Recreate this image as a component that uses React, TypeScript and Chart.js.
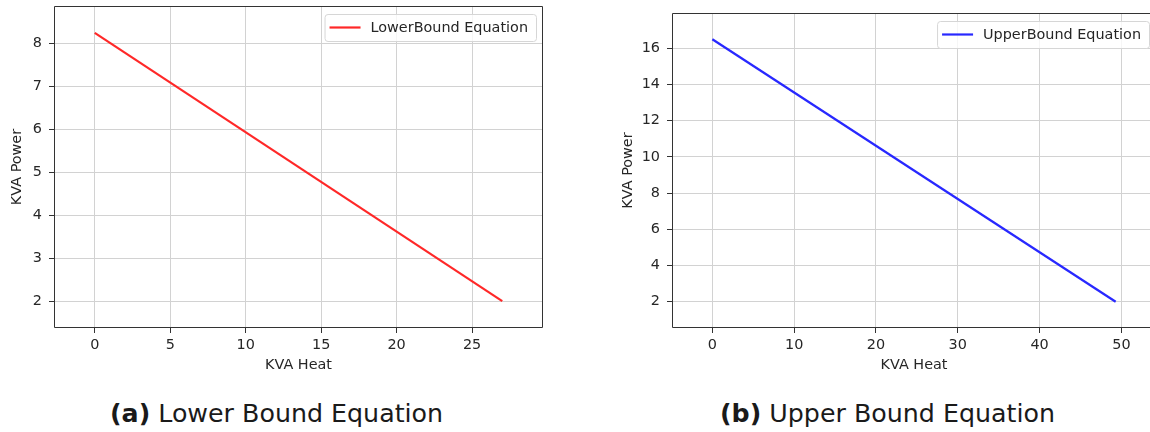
import React, { useEffect, useRef } from "react";
import { Chart, registerables } from "chart.js";

Chart.register(...registerables);

// ---- data ----
const lowerHeat = [0, 27];
const lowerPower = [8.24, 2.0];
const upperHeat = [0, 49.3];
const upperPower = [16.5, 2.0];

const lowerXTicks = [0, 5, 10, 15, 20, 25];
const lowerYTicks = [2, 3, 4, 5, 6, 7, 8];
const upperXTicks = [0, 10, 20, 30, 40, 50];
const upperYTicks = [2, 4, 6, 8, 10, 12, 14, 16];

const lowerXRange = [-2.7, 29.7];
const lowerYRange = [1.376, 8.864];
const upperXRange = [-4.93, 54.23];
const upperYRange = [0.55, 17.95];

const lowerLabel = "LowerBound Equation";
const upperLabel = "UpperBound Equation";
const xTitle = "KVA Heat";
const yTitle = "KVA Power";

const FONT = '"DejaVu Sans", sans-serif';
const FS = 14.4;
const TEXT = "#262626";

const framePlugin = {
  id: "frame",
  afterDatasetsDraw(chart: any, _args: any, opts: any) {
    const { ctx, chartArea } = chart;
    ctx.save();
    ctx.strokeStyle = "#333";
    ctx.lineWidth = 1;
    const l = Math.round(chartArea.left) + 0.5;
    const t = Math.round(chartArea.top) + 0.5;
    const r = Math.round(chartArea.right) - 0.5;
    const b = Math.round(chartArea.bottom) - 0.5;
    ctx.beginPath();
    ctx.moveTo(r, t);
    ctx.lineTo(l, t);
    ctx.lineTo(l, b);
    ctx.lineTo(r, b);
    if (opts && opts.right) ctx.lineTo(r, t);
    ctx.stroke();
    ctx.restore();
  },
};

const legendPlugin = {
  id: "insideLegend",
  afterDraw(chart: any) {
    const { ctx, chartArea } = chart;
    const ds = chart.data.datasets[0];
    ctx.save();
    ctx.font = `${FS}px ${FONT}`;
    const tw = ctx.measureText(ds.label).width;
    const right = chartArea.right - 7;
    const top = chartArea.top + 8;
    const h = 27;
    const w = 46 + tw + 8;
    const left = right - w;
    ctx.beginPath();
    (ctx as any).roundRect(left + 0.5, top + 0.5, w, h, 3);
    ctx.fillStyle = "rgba(255,255,255,0.8)";
    ctx.fill();
    ctx.strokeStyle = "#d6d6d6";
    ctx.lineWidth = 1;
    ctx.stroke();
    ctx.beginPath();
    ctx.strokeStyle = ds.borderColor;
    ctx.lineWidth = 2.2;
    ctx.moveTo(left + 5, top + h / 2);
    ctx.lineTo(left + 36, top + h / 2);
    ctx.stroke();
    ctx.fillStyle = TEXT;
    ctx.textBaseline = "middle";
    ctx.textAlign = "left";
    ctx.fillText(ds.label, left + 46, top + h / 2 + 1);
    ctx.restore();
  },
};

type Props = {
  xs: number[];
  ys: number[];
  label: string;
  color: string;
  xTicks: number[];
  yTicks: number[];
  xRange: number[];
  yRange: number[];
  left: number;
  width: number;
  height: number;
  yAxisWidth: number;
  padTop: number;
  padRight: number;
  yTitlePad: number;
  frameRight: boolean;
};

function zeroPad(axis: any) {
  axis.paddingTop = 0;
  axis.paddingBottom = 0;
  axis.paddingLeft = 0;
  axis.paddingRight = 0;
}

function LineChart(p: Props) {
  const ref = useRef<HTMLCanvasElement>(null);
  useEffect(() => {
    if (!ref.current) return;
    const chart = new Chart(ref.current, {
      type: "line",
      data: {
        datasets: [
          {
            label: p.label,
            data: p.xs.map((x, i) => ({ x, y: p.ys[i] })),
            borderColor: p.color,
            backgroundColor: p.color,
            borderWidth: 2.2,
            pointRadius: 0,
            tension: 0,
          },
        ],
      },
      options: {
        animation: false,
        responsive: false,
        devicePixelRatio: 1,
        layout: { padding: { left: 0, top: p.padTop, right: p.padRight, bottom: 0 } },
        plugins: {
          legend: { display: false },
          tooltip: { enabled: false },
          frame: { right: p.frameRight },
        },
        scales: {
          x: {
            type: "linear",
            min: p.xRange[0],
            max: p.xRange[1],
            afterBuildTicks: (axis: any) => {
              axis.ticks = p.xTicks.map((v) => ({ value: v }));
            },
            afterFit: (axis: any) => {
              axis.height = 57;
              zeroPad(axis);
            },
            ticks: {
              color: TEXT,
              font: { family: FONT, size: FS },
              padding: 4,
              maxRotation: 0,
              callback: (v: any) => String(v),
            },
            grid: {
              color: "#d2d2d2",
              lineWidth: 1,
              drawTicks: true,
              tickLength: 5,
              tickColor: "#333",
            },
            border: { display: false },
            title: {
              display: true,
              text: xTitle,
              color: TEXT,
              font: { family: FONT, size: FS },
              padding: { top: 0, bottom: 10.6 },
            },
          },
          y: {
            type: "linear",
            min: p.yRange[0],
            max: p.yRange[1],
            afterBuildTicks: (axis: any) => {
              axis.ticks = p.yTicks.map((v) => ({ value: v }));
            },
            afterFit: (axis: any) => {
              axis.width = p.yAxisWidth;
              zeroPad(axis);
            },
            ticks: {
              color: TEXT,
              font: { family: FONT, size: FS },
              padding: 7,
              callback: (v: any) => String(v),
            },
            grid: {
              color: "#d2d2d2",
              lineWidth: 1,
              drawTicks: true,
              tickLength: 5,
              tickColor: "#333",
            },
            border: { display: false },
            title: {
              display: true,
              text: yTitle,
              color: TEXT,
              font: { family: FONT, size: FS },
              padding: { top: p.yTitlePad, bottom: 0 },
            },
          },
        },
      },
      plugins: [framePlugin, legendPlugin],
    } as any);
    return () => chart.destroy();
  }, []);
  return (
    <canvas
      ref={ref}
      width={p.width}
      height={p.height}
      style={{ position: "absolute", left: p.left, top: 0, width: p.width, height: p.height }}
    />
  );
}

const captionStyle: React.CSSProperties = {
  position: "absolute",
  top: 401,
  fontFamily: FONT,
  fontSize: 25.3,
  lineHeight: 1,
  color: "#1a1a1a",
  whiteSpace: "nowrap",
};

export default function App() {
  return (
    <div
      style={{
        position: "absolute",
        left: 0,
        top: 0,
        width: 1150,
        height: 432,
        overflow: "hidden",
        background: "#fff",
      }}
    >
      <LineChart
        xs={lowerHeat}
        ys={lowerPower}
        label={lowerLabel}
        color="rgb(255,40,40)"
        xTicks={lowerXTicks}
        yTicks={lowerYTicks}
        xRange={lowerXRange}
        yRange={lowerYRange}
        left={0}
        width={560}
        height={385}
        yAxisWidth={54}
        padTop={6}
        padRight={17}
        yTitlePad={8.4}
        frameRight={true}
      />
      <LineChart
        xs={upperHeat}
        ys={upperPower}
        label={upperLabel}
        color="rgb(40,40,255)"
        xTicks={upperXTicks}
        yTicks={upperYTicks}
        xRange={upperXRange}
        yRange={upperYRange}
        left={620}
        width={600}
        height={385}
        yAxisWidth={52}
        padTop={13}
        padRight={64}
        yTitlePad={0}
        frameRight={false}
      />
      <div style={{ ...captionStyle, left: 110 }}>
        <b>(a)</b> Lower Bound Equation
      </div>
      <div style={{ ...captionStyle, left: 720 }}>
        <b>(b)</b> Upper Bound Equation
      </div>
    </div>
  );
}
